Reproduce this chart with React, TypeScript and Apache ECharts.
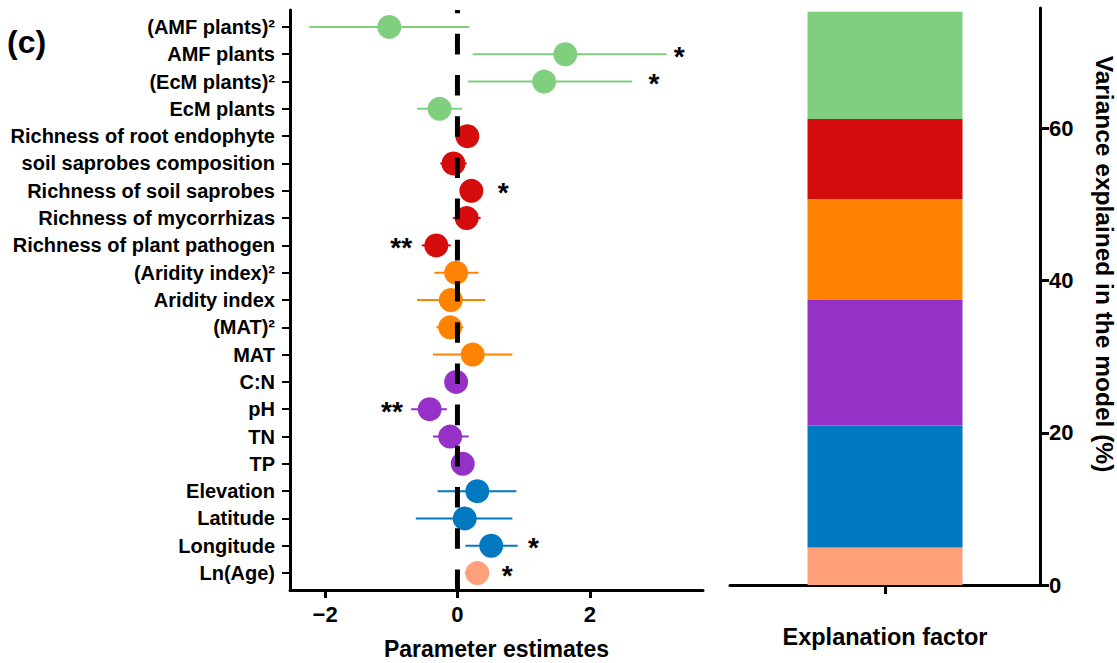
import React, { useEffect, useRef } from "react";
import * as echarts from "echarts";

// Predictors, top to bottom
const factors = [
  "(AMF plants)²",
  "AMF plants",
  "(EcM plants)²",
  "EcM plants",
  "Richness of root endophyte",
  "soil saprobes composition",
  "Richness of soil saprobes",
  "Richness of mycorrhizas",
  "Richness of plant pathogen",
  "(Aridity index)²",
  "Aridity index",
  "(MAT)²",
  "MAT",
  "C:N",
  "pH",
  "TN",
  "TP",
  "Elevation",
  "Latitude",
  "Longitude",
  "Ln(Age)",
];

// Standardised parameter estimates with their confidence limits
const estimates = [-1.03, 1.63, 1.31, -0.27, 0.15, -0.06, 0.21, 0.14, -0.32, -0.02, -0.1, -0.11, 0.23, -0.02, -0.42, -0.11, 0.08, 0.3, 0.11, 0.51, 0.3];
const lower = [-2.24, 0.23, 0.16, -0.61, 0.1, -0.26, 0.14, -0.07, -0.54, -0.35, -0.61, -0.32, -0.37, -0.05, -0.7, -0.37, 0.04, -0.3, -0.63, 0.12, 0.11];
const upper = [0.18, 3.16, 2.64, 0.07, 0.2, 0.14, 0.28, 0.35, -0.1, 0.32, 0.42, 0.09, 0.83, 0.01, -0.16, 0.17, 0.12, 0.89, 0.83, 0.91, 0.48];

// Significance marks and where they sit on the estimate axis
const signif = ["", "*", "*", "", "", "", "*", "", "**", "", "", "", "", "", "**", "", "", "", "", "*", "*"];
const signifX = [null, 3.35, 2.97, null, null, null, 0.69, null, -0.85, null, null, null, null, null, -0.99, null, null, null, null, 1.15, 0.75];

// Predictor groups (bottom to top in the stacked bar)
const groupNames = ["Stand age", "Geography", "Soil properties", "Climate", "Fungal guilds", "Mycorrhizal plants"];
const groupColors = ["#FFA07B", "#0079C1", "#9631C8", "#FF8300", "#D50C0C", "#7FCF7F"];
const varianceExplained = [4.93, 16.03, 16.48, 13.25, 10.52, 14.09];
const rowGroup = [5, 5, 5, 5, 4, 4, 4, 4, 4, 3, 3, 3, 3, 2, 2, 2, 2, 1, 1, 1, 0];

const estimateTicks = [-2, 0, 2];
const varianceTicks = [0, 20, 40, 60];

const FONT = "'Liberation Sans', Arial, sans-serif";
const Y_MIN = -0.62;
const Y_MAX = factors.length - 1 + 0.62;

export default function App() {
  const ref = useRef<HTMLDivElement>(null);

  useEffect(() => {
    if (!ref.current) return;
    const chart = echarts.init(ref.current, null, { renderer: "svg" });
    const rows = factors.map((_, i) => i);

    const option: any = {
      animation: false,
      backgroundColor: "#fff",
      textStyle: { fontFamily: FONT, color: "#000" },
      grid: [
        { left: 290, top: 10, width: 413, height: 580, containLabel: false, outerBoundsMode: "none" },
        { left: 730, top: 8, width: 310, height: 577, containLabel: false, outerBoundsMode: "none" },
      ],
      xAxis: [
        {
          gridIndex: 0,
          type: "value",
          min: -2.53,
          max: 3.71,
          splitLine: { show: false },
          axisLine: { show: true, onZero: false, lineStyle: { color: "#000", width: 3 } },
          axisTick: { show: true, length: 8, customValues: estimateTicks, lineStyle: { color: "#000", width: 3 } },
          axisLabel: {
            customValues: estimateTicks,
            formatter: (v: number) => (v < 0 ? "−" + Math.abs(v) : String(v)),
            fontSize: 22,
            fontWeight: "bold",
            color: "#000",
            fontFamily: FONT,
            margin: 13,
          },
          name: "Parameter estimates",
          nameLocation: "middle",
          nameGap: 47,
          nameTextStyle: { fontSize: 23, fontWeight: "bold", color: "#000", fontFamily: FONT },
        },
        {
          gridIndex: 1,
          type: "category",
          data: ["Explanation factor"],
          axisLine: { show: true, lineStyle: { color: "#000", width: 3 } },
          axisTick: { show: true, alignWithLabel: true, length: 9, lineStyle: { color: "#000", width: 3 } },
          axisLabel: { show: false },
          name: "Explanation factor",
          nameLocation: "middle",
          nameGap: 40,
          nameTextStyle: { fontSize: 23.5, fontWeight: "bold", color: "#000", fontFamily: FONT },
        },
      ],
      yAxis: [
        {
          gridIndex: 0,
          type: "value",
          inverse: true,
          min: Y_MIN,
          max: Y_MAX,
          splitLine: { show: false },
          axisLine: { show: true, onZero: false, lineStyle: { color: "#000", width: 3 } },
          axisTick: { show: true, length: 8, customValues: rows, lineStyle: { color: "#000", width: 2 } },
          axisLabel: {
            customValues: rows,
            formatter: (v: number) => factors[Math.round(v)] ?? "",
            fontSize: 20,
            fontWeight: "bold",
            color: "#000",
            fontFamily: FONT,
            margin: 15,
          },
        },
        {
          gridIndex: 1,
          type: "value",
          position: "right",
          min: 0,
          max: 75.8,
          splitLine: { show: false },
          axisLine: { show: true, onZero: false, lineStyle: { color: "#000", width: 3 } },
          axisTick: { show: true, length: 9, customValues: varianceTicks, lineStyle: { color: "#000", width: 3 } },
          axisLabel: {
            customValues: varianceTicks,
            fontSize: 22,
            fontWeight: "bold",
            color: "#000",
            fontFamily: FONT,
            margin: 9,
          },
        },
      ],
      graphic: [
        {
          type: "text",
          left: 7,
          top: 26,
          style: { text: "(c)", font: `bold 32px ${FONT}`, fill: "#000" },
        },
        {
          type: "text",
          x: 1104,
          y: 264,
          rotation: -Math.PI / 2,
          style: {
            text: "Variance explained in the model (%)",
            font: `bold 24.5px ${FONT}`,
            fill: "#000",
            align: "center",
            verticalAlign: "middle",
          },
        },
      ],
      series: [
        // confidence intervals
        {
          type: "custom",
          xAxisIndex: 0,
          yAxisIndex: 0,
          z: 2,
          silent: true,
          data: factors.map((_, i) => [lower[i], upper[i], i]),
          encode: { x: [0, 1], y: 2 },
          renderItem: (params: any, api: any) => {
            const a = api.coord([api.value(0), api.value(2)]);
            const b = api.coord([api.value(1), api.value(2)]);
            return {
              type: "line",
              shape: { x1: a[0], y1: a[1], x2: b[0], y2: b[1] },
              style: { stroke: groupColors[rowGroup[params.dataIndex]], lineWidth: 2 },
            };
          },
        },
        // point estimates
        {
          type: "scatter",
          xAxisIndex: 0,
          yAxisIndex: 0,
          z: 3,
          symbolSize: 24,
          silent: true,
          data: factors.map((_, i) => ({
            value: [estimates[i], i],
            itemStyle: { color: groupColors[rowGroup[i]], opacity: 1 },
          })),
        },
        // zero reference line
        {
          type: "line",
          xAxisIndex: 0,
          yAxisIndex: 0,
          z: 5,
          silent: true,
          symbol: "none",
          data: [
            [0, Y_MAX],
            [0, Y_MIN],
          ],
          lineStyle: { color: "#000", width: 5, type: [20.6, 20.6], cap: "butt" },
        },
        // significance stars
        {
          type: "custom",
          xAxisIndex: 0,
          yAxisIndex: 0,
          z: 6,
          silent: true,
          data: factors
            .map((_, i) => (signif[i] ? [signifX[i], i] : null))
            .filter((d) => d !== null),
          renderItem: (params: any, api: any) => {
            const row = api.value(1);
            const p = api.coord([api.value(0), row]);
            return {
              type: "text",
              x: p[0],
              y: p[1] + 2,
              style: {
                text: signif[Math.round(row)],
                font: `bold 28px ${FONT}`,
                fill: "#000",
                align: "center",
                verticalAlign: "middle",
              },
            };
          },
        },
        // variance explained by each group
        ...groupNames.map((name, g) => ({
          type: "bar",
          name,
          xAxisIndex: 1,
          yAxisIndex: 1,
          stack: "variance",
          barWidth: 155,
          silent: true,
          itemStyle: { color: groupColors[g] },
          data: [varianceExplained[g]],
        })),
      ],
    };

    chart.setOption(option);
    return () => chart.dispose();
  }, []);

  return (
    <div
      ref={ref}
      style={{ position: "fixed", left: 0, top: 0, width: 1117, height: 663, background: "#fff" }}
    />
  );
}
